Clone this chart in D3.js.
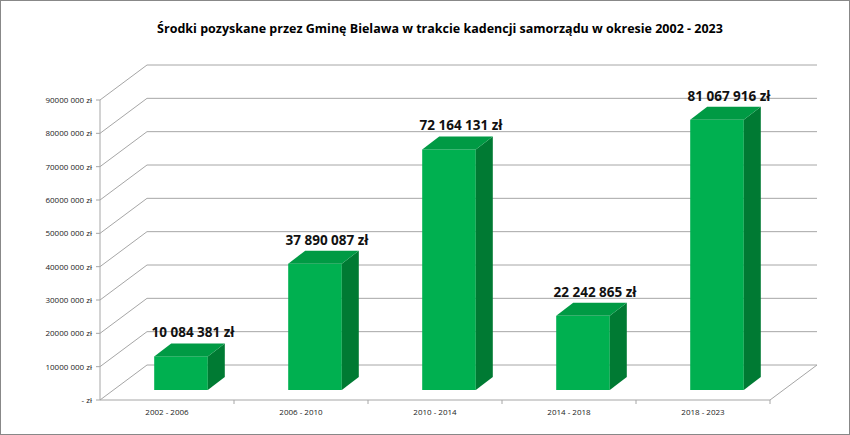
<!DOCTYPE html>
<html><head><meta charset="utf-8">
<script src="https://cdn.jsdelivr.net/npm/d3@7"></script>
<style>body{margin:0;background:#fff}svg{font-family:"Open Sans","Liberation Sans",sans-serif}</style>
</head><body><svg width="850" height="435"></svg>
<script>
const categories = ["2002 - 2006", "2006 - 2010", "2010 - 2014", "2014 - 2018", "2018 - 2023"];
const values = [10084381, 37890087, 72164131, 22242865, 81067916];
const labels = ["10 084 381 zł", "37 890 087 zł", "72 164 131 zł", "22 242 865 zł", "81 067 916 zł"];
const ticks = d3.range(0, 90000001, 10000000);

const svg = d3.select("svg");
svg.append("rect").attr("x", 0.5).attr("y", 0.5).attr("width", 849).attr("height", 434)
    .attr("fill", "#fff").attr("stroke", "#888");

svg.append("text").attr("x", 440).attr("y", 33).attr("text-anchor", "middle")
    .attr("font-weight", "bold").attr("font-size", 12.5)
    .text("Środki pozyskane przez Gminę Bielawa w trakcie kadencji samorządu  w okresie 2002 - 2023");

const x0 = 100, x1 = 770, dx = 47, dy = -35;
const y = d3.scaleLinear().domain([0, 90000000]).range([400, 100]);
const x = d3.scaleBand().domain(categories).range([x0, x1]).paddingInner(0.6).paddingOuter(0.3);

const grid = svg.append("g").attr("stroke", "#a6a6a6").attr("fill", "none");
ticks.forEach(t => {
    grid.append("path").attr("d", `M${x0},${y(t)}L${x0 + dx},${y(t) + dy}L${x1 + dx},${y(t) + dy}`);
});
grid.append("path").attr("d", `M${x0},${y(0)}L${x1},${y(0)}L${x1 + dx},${y(0) + dy}`);
grid.append("line").attr("x1", x0).attr("x2", x0).attr("y1", y(0)).attr("y2", y(90000000));

const axis = svg.append("g").attr("font-size", 8).attr("fill", "#222");
ticks.forEach(t => {
    grid.append("line").attr("x1", x0 - 4).attr("x2", x0).attr("y1", y(t)).attr("y2", y(t));
    axis.append("text").attr("x", x0 - 8).attr("y", y(t) + 3).attr("text-anchor", "end")
        .text(t === 0 ? "-  zł" : (t / 1000000) + "000 000 zł");
});
const step = x.step();
categories.forEach((c, i) => {
    const cx = x(c) + x.bandwidth() / 2;
    grid.append("line").attr("x1", cx + step / 2).attr("x2", cx + step / 2).attr("y1", 400).attr("y2", 404);
    axis.append("text").attr("x", cx).attr("y", 415).attr("text-anchor", "middle").text(c);
});

// bars sit half-way in depth
const ox = 14, oy = -10, sdx = 17, sdy = -13;
const bars = svg.append("g");
values.forEach((v, i) => {
    const bx = x(categories[i]) + ox, bw = x.bandwidth();
    const top = y(v) + oy, bot = y(0) + oy;
    bars.append("rect").attr("x", bx).attr("y", top).attr("width", bw).attr("height", bot - top).attr("fill", "#00b050");
    bars.append("path").attr("d", `M${bx + bw},${top}L${bx + bw + sdx},${top + sdy}L${bx + bw + sdx},${bot + sdy}L${bx + bw},${bot}Z`).attr("fill", "#007a33");
    bars.append("path").attr("d", `M${bx},${top}L${bx + sdx},${top + sdy}L${bx + bw + sdx},${top + sdy}L${bx + bw},${top}Z`).attr("fill", "#009a44");
    bars.append("text").attr("x", bx + bw / 2 + 12).attr("y", top + sdy - 6).attr("text-anchor", "middle")
        .attr("font-weight", "bold").attr("font-size", 13.5).attr("fill", "#111").text(labels[i]);
});
</script></body></html>
